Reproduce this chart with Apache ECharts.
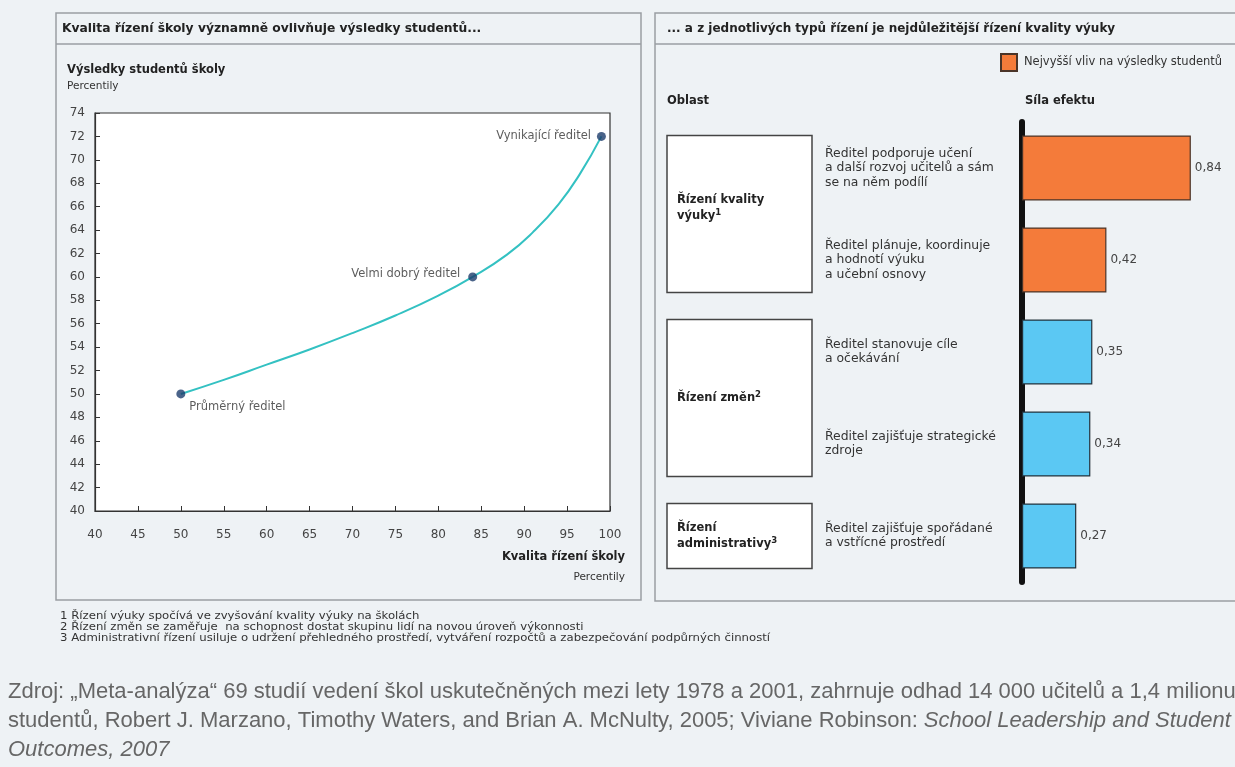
<!DOCTYPE html>
<html lang="cs">
<head>
<meta charset="utf-8">
<title>Kvalita řízení školy a výsledky studentů</title>
<script src="https://cdn.jsdelivr.net/npm/echarts@6/dist/echarts.min.js"></script>
<style>
  html, body { margin: 0; padding: 0; background: #eef2f5; }
  #chart { width: 1235px; height: 767px; }
</style>
</head>
<body>
<div id="chart"></div>
<script>
// ---- Left panel: quality of school leadership vs. student results (percentiles)
const leadershipPct = [50, 55, 60, 65, 70, 75, 80, 84, 88, 91, 94, 96.5, 99];
const studentPct    = [50, 51.2, 52.5, 53.8, 55.2, 56.7, 58.4, 60, 61.9, 63.8, 66.2, 68.8, 72];

const principalNames = ['Průměrný ředitel', 'Velmi dobrý ředitel', 'Vynikající ředitel'];
const principalX = [50, 84, 99];
const principalY = [50, 60, 72];

const xTicks = { min: 40, max: 100, step: 5 };
const yTicks = { min: 40, max: 74, step: 2 };

// ---- Right panel: effect size of individual leadership practices
const practices = [
  'Ředitel podporuje učení\na další rozvoj učitelů a sám\nse na něm podílí',
  'Ředitel plánuje, koordinuje\na hodnotí výuku\na učební osnovy',
  'Ředitel stanovuje cíle\na očekávání',
  'Ředitel zajišťuje strategické\nzdroje',
  'Ředitel zajišťuje spořádané\na vstřícné prostředí'
];
const effectSizes = [0.84, 0.42, 0.35, 0.34, 0.27];
const highestImpact = [true, true, false, false, false];

// area name, footnote number, number of practices it groups
const areaLabels = ['Řízení kvality\nvýuky', 'Řízení změn', 'Řízení\nadministrativy'];
const areaNotes = ['1', '2', '3'];
const areaPracticeCount = [2, 2, 1];

const legendName = 'Nejvyšší vliv na výsledky studentů';

const footnotes = [
  '1 Řízení výuky spočívá ve zvyšování kvality výuky na školách',
  '2 Řízení změn se zaměřuje  na schopnost dostat skupinu lidí na novou úroveň výkonnosti',
  '3 Administrativní řízení usiluje o udržení přehledného prostředí, vytváření rozpočtů a zabezpečování podpůrných činností'
];
const sourceLines = [
  'Zdroj: „Meta-analýza“ 69 studií vedení škol uskutečněných mezi lety 1978 a 2001, zahrnuje odhad 14 000 učitelů a 1,4 milionu',
  'studentů, Robert J. Marzano, Timothy Waters, and Brian A. McNulty, 2005; Viviane Robinson: {i|School Leadership and Student}',
  '{i|Outcomes, 2007}'
];

const ORANGE = '#f47b3a';
const BLUE = '#5bc8f3';
const BG = '#eef2f5';
const PANEL = '#9a9ea3';
const SANS = '"DejaVu Sans", Verdana, sans-serif';
const SRC = '"Liberation Sans", Arial, sans-serif';

const chart = echarts.init(document.getElementById('chart'), null, { renderer: 'canvas' });

const labelPlacement = [
  { position: [13, 18], align: 'left', verticalAlign: 'middle' },
  { position: 'left', distance: 8, offset: [0, -3] },
  { position: 'left', distance: 6 }
];

const option = {
  backgroundColor: BG,
  animation: false,
  grid: [
    { left: 95, top: 113, width: 515, height: 398, show: true, backgroundColor: '#fff', borderColor: '#333', borderWidth: 1.2 },
    { left: 1022, top: 122, width: 201, height: 460 }
  ],
  legend: {
    data: [legendName],
    left: 1000, top: 53, padding: 0,
    itemWidth: 16, itemHeight: 17,
    icon: 'rect',
    selectedMode: false,
    textStyle: { fontFamily: SANS, fontSize: 11.5, color: '#333', padding: [0, 0, 0, 2] }
  },
  xAxis: [
    {
      gridIndex: 0, type: 'value', min: xTicks.min, max: xTicks.max, interval: xTicks.step,
      axisLine: { lineStyle: { color: '#333', width: 1.2 } },
      axisTick: { inside: true, length: 5, lineStyle: { color: '#333' } },
      axisLabel: { margin: 18, fontFamily: SANS, fontSize: 12, color: '#444' },
      splitLine: { show: false }
    },
    { gridIndex: 1, type: 'value', min: 0, max: 1, show: false }
  ],
  yAxis: [
    {
      gridIndex: 0, type: 'value', min: yTicks.min, max: yTicks.max, interval: yTicks.step,
      axisLine: { show: true, lineStyle: { color: '#333', width: 1.2 } },
      axisTick: { show: true, inside: true, length: 5, lineStyle: { color: '#333' } },
      axisLabel: { margin: 10, fontFamily: SANS, fontSize: 12, color: '#444' },
      splitLine: { show: false }
    },
    {
      gridIndex: 1, type: 'category', inverse: true, data: practices,
      axisLine: { lineStyle: { color: '#111', width: 6 } },
      axisTick: { show: false },
      axisLabel: { align: 'left', margin: 197, fontFamily: SANS, fontSize: 12.4, lineHeight: 14.5, color: '#333' }
    }
  ],
  series: [
    {
      type: 'line', xAxisIndex: 0, yAxisIndex: 0,
      data: leadershipPct.map((x, i) => [x, studentPct[i]]),
      smooth: 0.5, showSymbol: false,
      lineStyle: { color: '#33c1c2', width: 2 },
      z: 2
    },
    {
      type: 'scatter', xAxisIndex: 0, yAxisIndex: 0,
      data: principalX.map((x, i) => ({
        value: [x, principalY[i]],
        name: principalNames[i],
        label: labelPlacement[i]
      })),
      symbolSize: 9,
      itemStyle: { color: '#1d3c6c' },
      label: { show: true, formatter: p => p.name, fontFamily: SANS, fontSize: 11.5, color: '#333' },
      z: 3
    },
    {
      name: legendName,
      type: 'bar', xAxisIndex: 1, yAxisIndex: 1,
      barWidth: 65,
      itemStyle: { color: ORANGE, borderColor: '#4a3428', borderWidth: 1.2 },
      data: effectSizes.map((v, i) => ({
        value: v,
        itemStyle: highestImpact[i] ? {} : { color: BLUE, borderColor: '#23323c' }
      })),
      label: {
        show: true, position: 'right', distance: 4,
        formatter: p => String(p.value).replace('.', ','),
        fontFamily: SANS, fontSize: 12, color: '#444'
      }
    }
  ]
};

chart.setOption(option);

// Frames, headings and notes drawn around the two plots
const g = [];
function text(x, y, str, style, extra) {
  g.push(Object.assign({ type: 'text', x, y, silent: true, style: Object.assign({ text: str, fontFamily: SANS, fontSize: 11, fill: '#333', verticalAlign: 'middle' }, style) }, extra || {}));
}
function frame(x, y, w, h, sepY) {
  g.push({ type: 'rect', shape: { x, y, width: w, height: h }, style: { fill: 'none', stroke: PANEL, lineWidth: 1.5 }, silent: true });
  g.push({ type: 'line', shape: { x1: x, y1: sepY, x2: x + w, y2: sepY }, style: { stroke: PANEL, lineWidth: 1.5 }, silent: true });
}
frame(56, 13, 585, 587, 44);
frame(655, 13, 620, 588, 44);

const boldHead = { fontWeight: 'bold', fontSize: 11.5, fill: '#222' };
text(62, 29, 'Kvalita řízení školy významně ovlivňuje výsledky studentů...', Object.assign({}, boldHead, { fontSize: 12.3 }));
text(667, 29, '... a z jednotlivých typů řízení je nejdůležitější řízení kvality výuky', Object.assign({}, boldHead, { fontSize: 12 }));

text(67, 70, 'Výsledky studentů školy', boldHead);
text(67, 86, 'Percentily', { fontSize: 10.5, fill: '#333' });
text(625, 557, 'Kvalita řízení školy', Object.assign({}, boldHead, { align: 'right' }));
text(625, 577, 'Percentily', { fontSize: 10.5, fill: '#333', align: 'right' });

text(667, 101, 'Oblast', boldHead);
text(1025, 101, 'Síla efektu', boldHead);

// Area boxes span the bars of the practices that belong to each area
const half = 65 / 2;
let first = 0;
areaLabels.forEach((label, k) => {
  const last = first + areaPracticeCount[k] - 1;
  const top = chart.convertToPixel({ yAxisIndex: 1 }, first) - half;
  const bottom = chart.convertToPixel({ yAxisIndex: 1 }, last) + half;
  g.push({ type: 'rect', shape: { x: 667, y: top, width: 145, height: bottom - top }, style: { fill: '#fff', stroke: '#444', lineWidth: 1.5 }, silent: true });
  text(677, (top + bottom) / 2 - (k === 0 ? 6 : 0), label + '{s|' + areaNotes[k] + '}', Object.assign({}, boldHead, {
    lineHeight: 15.5,
    rich: { s: { fontFamily: SANS, fontWeight: 'bold', fontSize: 8.5, fill: '#222', verticalAlign: 'top', lineHeight: 15.5 } }
  }));
  first = last + 1;
});

// footnotes: slightly widened small print
footnotes.forEach((s, i) => text(0, 0, s, { fontSize: 10, fill: '#333' }, { x: 60, y: 616 + i * 11, scaleX: 1.17 }));

const italic = { i: { fontStyle: 'italic', fontFamily: SRC, fontSize: 22, fill: '#666' } };
sourceLines.forEach((s, i) => text(8, 692 + i * 29, s, { fontFamily: SRC, fontSize: 22, fill: '#666', rich: italic }));

chart.setOption({ graphic: { elements: g } });
</script>
</body>
</html>
